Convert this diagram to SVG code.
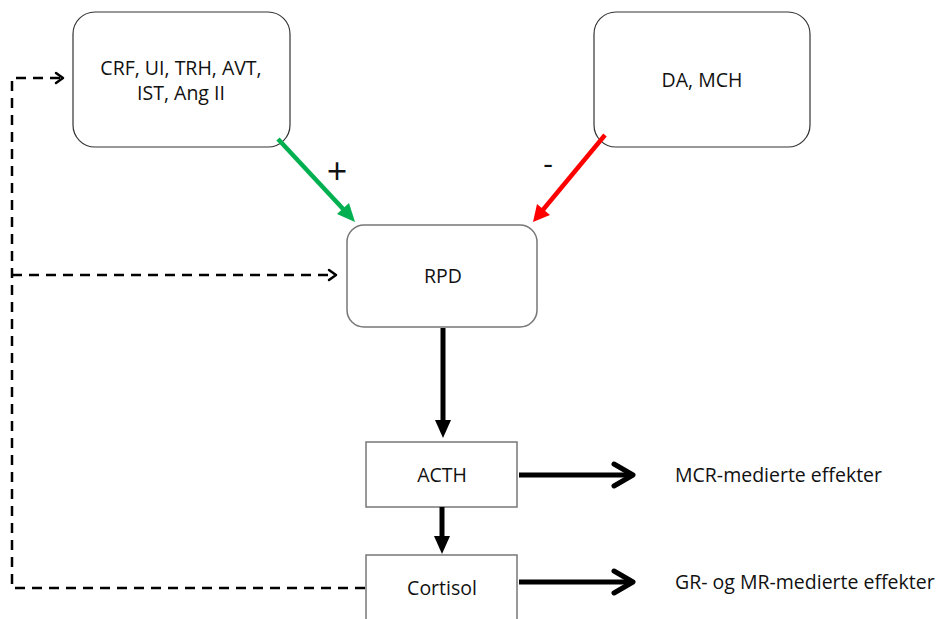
<svg xmlns="http://www.w3.org/2000/svg" width="944" height="619" viewBox="0 0 944 619">
<defs>
<style>
text{font-family:"Open Sans","Liberation Sans",sans-serif;fill:#111;}
.lbl{font-size:19.5px;text-anchor:middle;}
.side{font-size:19.5px;}
.sign{text-anchor:middle;}
.box{fill:#fff;stroke:#333;stroke-width:1.2;}
.gbox{fill:#fff;stroke:#777;stroke-width:1.5;}
.dash{fill:none;stroke:#000;stroke-width:2.5;stroke-dasharray:10 7;}
.chev{fill:none;stroke:#000;stroke-width:2.5;stroke-linecap:round;stroke-linejoin:round;}
.thick{fill:none;stroke:#000;stroke-width:5;}
.bchev{fill:none;stroke:#000;stroke-width:5;stroke-linecap:round;stroke-linejoin:round;}
</style>
</defs>
<rect width="944" height="619" fill="#fff"/>
<g id="node-crf">
<rect class="box" x="73" y="12" width="217" height="135" rx="22"/>
<text class="lbl" x="181" y="75">CRF, UI, TRH, AVT,</text>
<text class="lbl" x="181" y="100">IST, Ang II</text>
</g>
<g id="node-da">
<rect class="box" x="594" y="12" width="216" height="135" rx="22"/>
<text class="lbl" x="702" y="87">DA, MCH</text>
</g>
<g id="node-rpd">
<rect class="gbox" x="347" y="225" width="190" height="102" rx="17"/>
<text class="lbl" x="443" y="283">RPD</text>
</g>
<g id="node-acth">
<rect class="gbox" x="366" y="442" width="151" height="65"/>
<text class="lbl" x="442" y="482">ACTH</text>
</g>
<g id="node-cortisol">
<rect class="gbox" x="366" y="555" width="151" height="80"/>
<text class="lbl" x="442" y="595">Cortisol</text>
</g>
<g id="node-mcr">
<text class="side" x="675" y="482">MCR-medierte effekter</text>
</g>
<g id="node-gr">
<text class="side" x="675" y="589">GR- og MR-medierte effekter</text>
</g>
<g id="connectors">
<line x1="278" y1="139" x2="345" y2="211" stroke="#00B050" stroke-width="4.5"/>
<polygon points="355,222 337,214 349,203" fill="#00B050"/>
<text class="sign" x="337" y="184" font-size="36">+</text>
<line x1="605" y1="135" x2="542" y2="211" stroke="#FF0000" stroke-width="4.5"/>
<polygon points="533,222 537,204 550,215" fill="#FF0000"/>
<text class="sign" x="548" y="174" font-size="30">-</text>
<polyline class="dash" points="365,588 12,588 12,78 60,78"/>
<polyline class="chev" points="56,73 63,78 56,83"/>
<line class="dash" x1="12" y1="275" x2="333" y2="275"/>
<polyline class="chev" points="329,270 336,275 329,280"/>
<line class="thick" x1="443" y1="328" x2="443" y2="422"/>
<polygon points="435,420 451,420 443,438" fill="#000"/>
<line class="thick" x1="442" y1="507" x2="442" y2="538"/>
<polygon points="434,536 450,536 442,554" fill="#000"/>
<line class="thick" x1="519" y1="475" x2="632" y2="475"/>
<polyline class="bchev" points="614,464 633,475 614,486"/>
<line class="thick" x1="519" y1="582" x2="632" y2="582"/>
<polyline class="bchev" points="614,571 633,582 614,593"/>
</g>
</svg>
